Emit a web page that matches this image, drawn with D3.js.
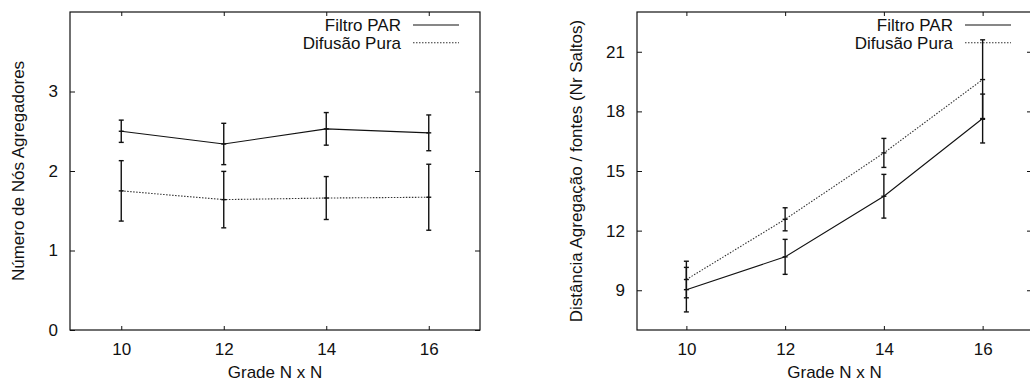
<!DOCTYPE html>
<html>
<head>
<meta charset="utf-8">
<script src="https://d3js.org/d3.v7.min.js"></script>
<style>
body { margin:0; background:#fff; }
svg text { font-family:"Liberation Sans", Arial, sans-serif; font-size:17px; fill:#111; }
.frame { fill:none; stroke:#111; stroke-width:1.2; }
.axis path { display:none; }
.axis line { stroke:#111; stroke-width:1; }
.line { fill:none; stroke:#111; stroke-width:1.1; }
.dotted { stroke-dasharray:1.5,1.5; stroke:#333; }
.err { stroke:#111; stroke-width:1.4; }
</style>
</head>
<body>
<svg id="myGraph" width="1030" height="383"></svg>
<script>
// dados
var grid = [10, 12, 14, 16];
var xTicks = [10, 12, 14, 16];

var agregFiltro = [2.50, 2.34, 2.53, 2.48];
var agregFiltroErr = [0.14, 0.26, 0.205, 0.225];
var agregDifusao = [1.75, 1.64, 1.66, 1.67];
var agregDifusaoErr = [0.38, 0.355, 0.27, 0.415];
var agregTicks = [0, 1, 2, 3];

var distFiltro = [9.03, 10.68, 13.73, 17.64];
var distFiltroErr = [1.12, 0.88, 1.10, 1.23];
var distDifusao = [9.54, 12.57, 15.91, 19.60];
var distDifusaoErr = [0.92, 0.58, 0.73, 2.00];
var distTicks = [9, 12, 15, 18, 21];

var legendNames = ["Filtro PAR", "Difusão Pura"];

window.addEventListener("load", function(){
  var svg = d3.select("#myGraph");

  drawPanel({
    left:70, right:480, top:12, bottom:330,
    yDomain:[0, 4], yTicks:agregTicks,
    series:[[agregFiltro, agregFiltroErr, ""], [agregDifusao, agregDifusaoErr, "dotted"]],
    yTitle:"Número de Nós Agregadores", yTitleX:18,
    legendX:401
  });
  drawPanel({
    left:637, right:1032, top:12, bottom:330,
    yDomain:[7, 23], yTicks:distTicks,
    series:[[distFiltro, distFiltroErr, ""], [distDifusao, distDifusaoErr, "dotted"]],
    yTitle:"Distância Agregação / fontes (Nr Saltos)", yTitleX:576,
    legendX:953
  });

  function drawPanel(p){
    var x = d3.scaleLinear().domain([9, 17]).range([p.left, p.right]);
    var y = d3.scaleLinear().domain(p.yDomain).range([p.bottom, p.top]);
    var g = svg.append("g");

    // eixos com marcas para dentro
    g.append("g").attr("class", "axis")
      .attr("transform", "translate(0," + p.bottom + ")")
      .call(d3.axisBottom(x).tickValues(xTicks).tickSize(-4).tickPadding(13).tickFormat(d3.format("d")));
    g.append("g").attr("class", "axis")
      .attr("transform", "translate(0," + p.top + ")")
      .call(d3.axisTop(x).tickValues(xTicks).tickSize(-4).tickFormat(""));
    g.append("g").attr("class", "axis")
      .attr("transform", "translate(" + p.left + ",0)")
      .call(d3.axisLeft(y).tickValues(p.yTicks).tickSize(-5).tickPadding(12).tickFormat(d3.format("d")));
    g.append("g").attr("class", "axis")
      .attr("transform", "translate(" + p.right + ",0)")
      .call(d3.axisRight(y).tickValues(p.yTicks).tickSize(-5).tickFormat(""));
    g.selectAll(".axis text").attr("fill", "#111").style("font-size", "17px")
      .attr("font-family", null);

    g.append("rect").attr("class", "frame")
      .attr("x", p.left).attr("y", p.top)
      .attr("width", p.right - p.left).attr("height", p.bottom - p.top);

    // séries com barras de erro
    p.series.forEach(function(s, k){
      var vals = s[0], errs = s[1];
      var line = d3.line()
        .x(function(d, i){ return x(grid[i]); })
        .y(function(d){ return y(d); });
      g.append("path").attr("class", "line " + s[2]).attr("d", line(vals));

      var eb = g.append("g");
      vals.forEach(function(v, i){
        var cx = x(grid[i]);
        eb.append("line").attr("class", "err")
          .attr("x1", cx).attr("x2", cx)
          .attr("y1", y(v - errs[i])).attr("y2", y(v + errs[i]));
        [v - errs[i], v + errs[i], v].forEach(function(c){
          eb.append("line").attr("class", "err")
            .attr("x1", cx - 2.5).attr("x2", cx + 2.5)
            .attr("y1", y(c)).attr("y2", y(c));
        });
      });

      // legenda
      var ly = 25 + k * 17.7;
      g.append("text").attr("x", p.legendX).attr("y", ly).attr("dy", "0.36em")
        .attr("text-anchor", "end").text(legendNames[k]);
      g.append("line").attr("class", "line " + s[2])
        .attr("x1", p.legendX + 12).attr("x2", p.legendX + 58)
        .attr("y1", ly).attr("y2", ly);
    });

    // títulos
    g.append("text").attr("x", x(13)).attr("y", 378)
      .attr("text-anchor", "middle").text("Grade N x N");
    g.append("text")
      .attr("transform", "translate(" + p.yTitleX + "," + ((p.top + p.bottom) / 2) + ") rotate(-90)")
      .attr("dy", "0.36em").attr("text-anchor", "middle").text(p.yTitle);
  }
});
</script>
</body>
</html>
